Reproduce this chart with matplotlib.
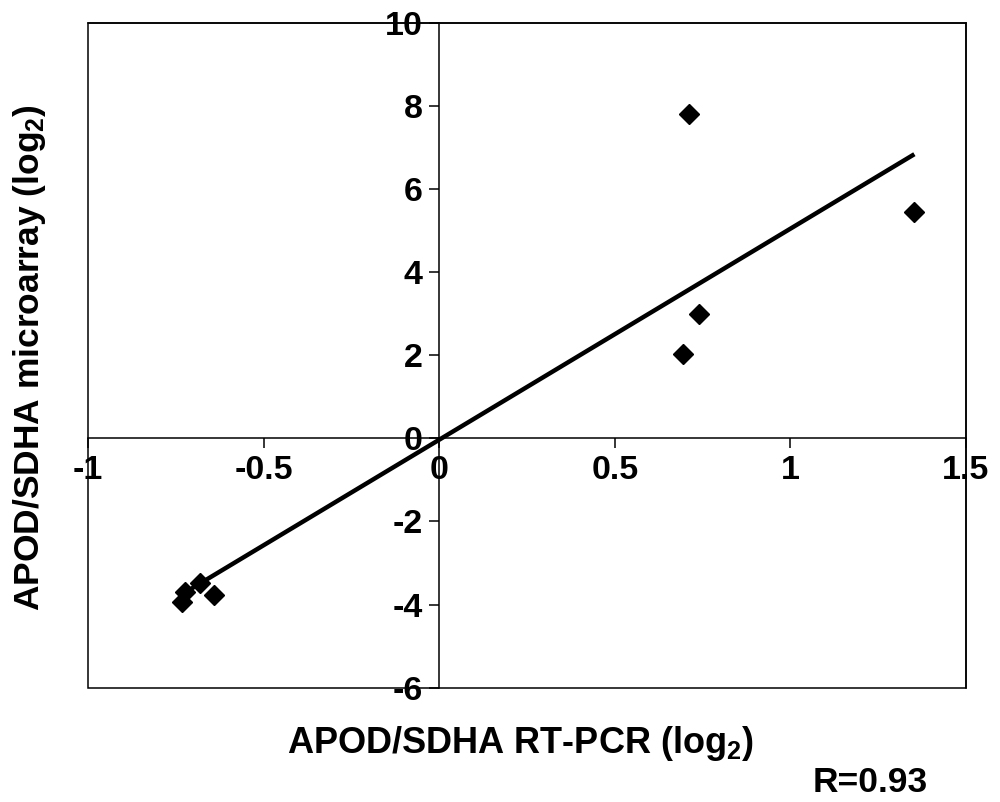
import numpy as np
import matplotlib
matplotlib.use("Agg")
import matplotlib.pyplot as plt
from matplotlib.patches import Rectangle

plt.rcParams['font.family'] = ['Liberation Sans', 'DejaVu Sans']
plt.rcParams['font.weight'] = 'bold'
plt.rcParams['mathtext.default'] = 'regular'
plt.rcParams['axes.unicode_minus'] = False

# RT-PCR (x) vs microarray (y), log2 ratios
rtpcr = [0.711, 1.353, 0.741, 0.693, -0.732, -0.723, -0.680, -0.642]
microarray = [7.80, 5.45, 2.98, 2.04, -3.93, -3.69, -3.49, -3.77]

xticks = [-1, -0.5, 0, 0.5, 1, 1.5]
xtick_labels = ['-1', '-0.5', '0', '0.5', '1', '1.5']
yticks = [-6, -4, -2, 0, 2, 4, 6, 8, 10]
ytick_labels = ['-6', '-4', '-2', '0', '2', '4', '6', '8', '10']
r_text = 'R=0.93'

x = np.array(rtpcr)
y = np.array(microarray)

fig = plt.figure(figsize=(10, 8.02), dpi=100)
ax = fig.add_axes([0.088, 0.1425, 0.878, 0.8292])

# fitted line
slope, icpt = np.polyfit(x, y, 1)
xx = np.array([x.min(), x.max()])
ax.plot(xx, slope * xx + icpt, color='black', lw=3.2, solid_capstyle='butt', zorder=3)
ax.plot(x, y, 'D', color='black', ms=10, zorder=4)

ax.set_xlim(-1, 1.5)
ax.set_ylim(-6, 10)

# axes cross at zero, plus outer box
ax.spines['left'].set_position(('data', 0))
ax.spines['bottom'].set_position(('data', 0))
for s in ax.spines.values():
    s.set_linewidth(1.1)
ax.add_patch(Rectangle((0, 0), 1, 1, transform=ax.transAxes, fill=False,
                       lw=1.1, ec='black', clip_on=False, zorder=5))

ax.set_xticks(xticks)
ax.set_xticklabels(xtick_labels)
ax.set_yticks(yticks)
ax.set_yticklabels(ytick_labels)
ax.tick_params(axis='both', direction='out', length=7, width=1.1,
               labelsize=24.5, pad=5)
for lab in ax.get_xticklabels() + ax.get_yticklabels():
    lab.set_fontweight('bold')

fig.text(0.521, 0.061, 'APOD/SDHA RT-PCR (log$_2$)', ha='center', va='baseline',
         fontsize=26, fontweight='bold')
fig.text(0.030, 0.554, 'APOD/SDHA microarray (log$_2$)', ha='center', va='center',
         rotation=90, fontsize=25.5, fontweight='bold')
fig.text(0.870, 0.0125, r_text, ha='center', va='baseline', fontsize=25.5,
         fontweight='bold')

fig.savefig('out.png', dpi=100)
